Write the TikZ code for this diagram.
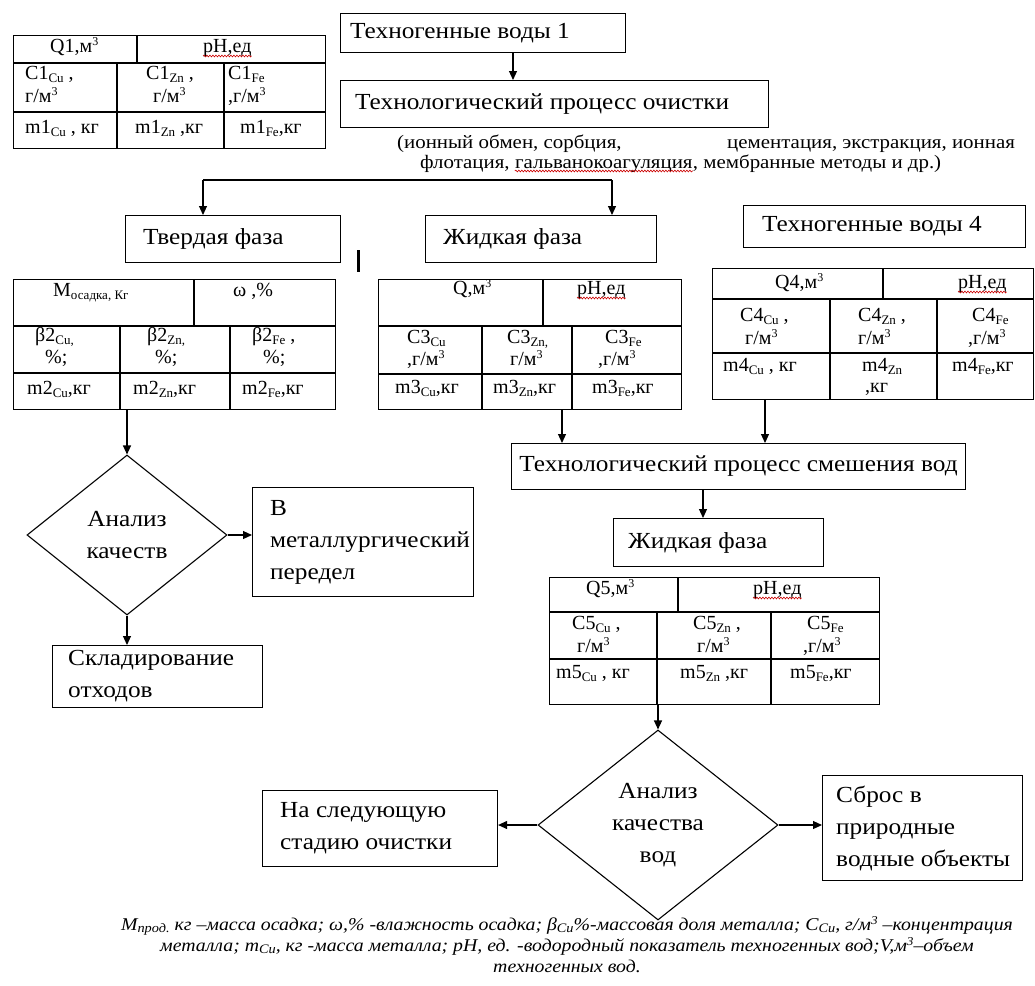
\documentclass[tikz,border=0pt]{standalone}
\usepackage{fontspec}
\setmainfont{Liberation Serif}
\newfontfamily\bxf{Liberation Serif}[FakeStretch=1.1]
\usetikzlibrary{arrows.meta,shapes.geometric,decorations.pathmorphing}
\newcommand\bfsz{\bxf\fontsize{23}{32}\selectfont}
\newcommand\ntf{\bxf\fontsize{19}{20}\selectfont}
\newcommand\tbf{\fontsize{20}{21}\selectfont}
\newcommand\cpf{\bxf\itshape\fontsize{18}{21}\selectfont}
\newcommand\sbs[1]{\raisebox{-0.16em}{\fontsize{13}{13}\selectfont #1}}
\newcommand\cub{\raisebox{0.33em}{\fontsize{12}{12}\selectfont 3}}
\newcommand\tx[4]{\node[tt] (#1) at (#2,#3) {#4};}
\begin{document}
\begin{tikzpicture}[x=1pt,y=-1pt,
  bx/.style={draw, line width=1.1pt, inner sep=0pt},
  tl/.style={line width=1.1pt},
  arr/.style={-{Triangle[length=9pt,width=8pt]}, line width=1.1pt},
  lab/.style={inner sep=0pt, anchor=west, align=left, font=\bfsz},
  tt/.style={inner sep=0pt, anchor=base west, font=\tbf},
  nt/.style={inner sep=0pt, anchor=base west, font=\ntf},
  cp/.style={inner sep=0pt, anchor=base, font=\cpf},
  sq/.style={red!80!black, line width=0.6pt, decorate, decoration={snake, amplitude=0.9pt, segment length=3pt}},
  dm/.style={diamond, draw, line width=1.1pt, inner sep=0pt, align=center, font=\bfsz}]
\useasboundingbox[fill=white] (0,0) rectangle (1035,985);

% ---------- top boxes ----------
\node[bx, anchor=north west, minimum width=285, minimum height=39] (tv1) at (340,13) {};
\node[lab] (tv1t) at ([xshift=10]tv1.west) {Техногенные воды 1};
\node[bx, anchor=north west, minimum width=428, minimum height=47] (tp) at (340,80) {};
\node[lab] (tpt) at ([xshift=15]tp.west) {Технологический процесс очистки};
\node[nt] (n1) at (397,148) {(ионный обмен, сорбция,};
\node[nt] (n2) at (727,148) {цементация, экстракция, ионная};
\node[nt] (n3a) at (420,168) {флотация,};
\node[nt] (n3b) at ([xshift=5]n3a.base east) {гальванокоагуляция};
\node[nt] (n3c) at (n3b.base east) {, мембранные методы и др.)};
\draw[sq] ([yshift=-3]n3b.base west) -- ([yshift=-3]n3b.base east);
\coordinate (c1) at (513,0);
\draw[arr] (c1 |- tv1.south) -- (c1 |- tp.north);

% ---------- table Q1 ----------
\node[bx, anchor=north west, minimum width=312, minimum height=113] (q1) at (13,35) {};
\draw[tl] (13,63) -- (325,63) (137,35) -- (137,63) (13,112) -- (325,112)
          (117,63) -- (117,148) (224,63) -- (224,148);
\tx{q1a}{50}{52}{Q1,м\cub}
\tx{q1b}{203}{52}{pH,ед}
\draw[sq] ([yshift=-4]q1b.base west) -- ([yshift=-4]q1b.base east);
\tx{q1c}{25}{79}{C1\sbs{Cu} ,}
\tx{q1d}{25}{102}{г/м\cub}
\tx{q1e}{146}{79}{C1\sbs{Zn} ,}
\tx{q1f}{153}{102}{г/м\cub}
\tx{q1g}{228}{79}{C1\sbs{Fe}}
\tx{q1h}{228}{102}{,г/м\cub}
\tx{q1i}{25}{133}{m1\sbs{Cu} , кг}
\tx{q1j}{135}{133}{m1\sbs{Zn} ,кг}
\tx{q1k}{240}{133}{m1\sbs{Fe},кг}

% ---------- phases ----------
\node[bx, anchor=north west, minimum width=215, minimum height=47] (tf) at (125,215) {};
\node[lab] (tft) at ([xshift=18]tf.west) {Твердая фаза};
\node[bx, anchor=north west, minimum width=231, minimum height=47] (zf) at (425,215) {};
\node[lab] (zft) at ([xshift=18]zf.west) {Жидкая фаза};
\node[bx, anchor=north west, minimum width=282, minimum height=42] (tv4) at (743,205) {};
\node[lab] (tv4t) at ([xshift=19]tv4.west) {Техногенные воды 4};
\coordinate (s1) at (203,180);
\coordinate (s2) at (612,180);
\draw[tl] (s1) -- (s2);
\draw[arr] (s1) -- (s1 |- tf.north);
\draw[arr] (s2) -- (s2 |- zf.north);
\draw[line width=3pt] (358,250) -- (358,272);

% ---------- table solid phase ----------
\node[bx, anchor=north west, minimum width=322, minimum height=130] (t2) at (13,279) {};
\draw[tl] (13,326) -- (335,326) (194,279) -- (194,326) (13,373) -- (335,373)
          (120,326) -- (120,409) (230,326) -- (230,409);
\tx{t2a}{53}{296}{M\sbs{осадка, Кг}}
\tx{t2b}{233}{296}{ω ,\%}
\tx{t2c}{35}{341}{β2\sbs{Cu,}}
\tx{t2d}{45}{363}{\%;}
\tx{t2e}{147}{341}{β2\sbs{Zn,}}
\tx{t2f}{155}{363}{\%;}
\tx{t2g}{252}{341}{β2\sbs{Fe} ,}
\tx{t2h}{263}{363}{\%;}
\tx{t2i}{27}{394}{m2\sbs{Cu},кг}
\tx{t2j}{133}{394}{m2\sbs{Zn},кг}
\tx{t2k}{242}{394}{m2\sbs{Fe},кг}

% ---------- table liquid phase ----------
\node[bx, anchor=north west, minimum width=303, minimum height=130] (t3) at (378,279) {};
\draw[tl] (378,326) -- (681,326) (543,279) -- (543,326) (378,374) -- (681,374)
          (482,326) -- (482,409) (572,326) -- (572,409);
\tx{t3a}{453}{294}{Q,м\cub}
\tx{t3b}{577}{294}{pH,ед}
\draw[sq] ([yshift=-4]t3b.base west) -- ([yshift=-4]t3b.base east);
\tx{t3c}{407}{343}{C3\sbs{Cu}}
\tx{t3d}{407}{365}{,г/м\cub}
\tx{t3e}{507}{343}{C3\sbs{Zn,}}
\tx{t3f}{510}{365}{г/м\cub}
\tx{t3g}{605}{343}{C3\sbs{Fe}}
\tx{t3h}{598}{365}{,г/м\cub}
\tx{t3i}{395}{393}{m3\sbs{Cu},кг}
\tx{t3j}{493}{393}{m3\sbs{Zn},кг}
\tx{t3k}{592}{393}{m3\sbs{Fe},кг}

% ---------- table waters 4 ----------
\node[bx, anchor=north west, minimum width=321, minimum height=131] (t4) at (712,268) {};
\draw[tl] (712,299) -- (1033,299) (883,268) -- (883,299) (712,353) -- (1033,353)
          (830,299) -- (830,399) (937,299) -- (937,399);
\tx{t4a}{775}{288}{Q4,м\cub}
\tx{t4b}{958}{288}{pH,ед}
\draw[sq] ([yshift=-4]t4b.base west) -- ([yshift=-4]t4b.base east);
\tx{t4c}{740}{321}{C4\sbs{Cu} ,}
\tx{t4d}{745}{344}{г/м\cub}
\tx{t4e}{858}{321}{C4\sbs{Zn} ,}
\tx{t4f}{858}{344}{г/м\cub}
\tx{t4g}{972}{321}{C4\sbs{Fe}}
\tx{t4h}{968}{344}{,г/м\cub}
\tx{t4i}{723}{371}{m4\sbs{Cu} , кг}
\tx{t4j}{862}{371}{m4\sbs{Zn}}
\tx{t4k}{865}{392}{,кг}
\tx{t4l}{952}{371}{m4\sbs{Fe},кг}

% ---------- left branch ----------
\node[dm, minimum width=200, minimum height=160] (d1) at (127,535) {Анализ\\качеств};
\coordinate (c2) at (127,0);
\draw[arr] (c2 |- t2.south) -- (d1.north);
\node[bx, anchor=north west, minimum width=221, minimum height=109] (met) at (252,487) {};
\node[lab] (mett) at ([xshift=18]met.west) {В\\металлургический\\передел};
\draw[arr] (d1.east) -- (d1.east -| met.west);
\node[bx, anchor=north west, minimum width=210, minimum height=62] (skl) at (52,645) {};
\node[lab] (sklt) at ([xshift=16]skl.west) {Складирование\\отходов};
\draw[arr] (d1.south) -- (d1.south |- skl.north);

% ---------- mixing ----------
\node[bx, anchor=north west, minimum width=454, minimum height=46, font=\bfsz] (mix) at (511,443) {Технологический процесс смешения вод};
\coordinate (c3) at (562,0);
\coordinate (c4) at (765,0);
\draw[arr] (c3 |- t3.south) -- (c3 |- mix.north);
\draw[arr] (c4 |- t4.south) -- (c4 |- mix.north);
\node[bx, anchor=north west, minimum width=210, minimum height=48] (zf2) at (613,518) {};
\node[lab] (zf2t) at ([xshift=15]zf2.west) {Жидкая фаза};
\coordinate (c5) at (703,0);
\draw[arr] (c5 |- mix.south) -- (c5 |- zf2.north);

% ---------- table Q5 ----------
\node[bx, anchor=north west, minimum width=330, minimum height=127] (t5) at (549,577) {};
\draw[tl] (549,612) -- (879,612) (678,577) -- (678,612) (549,659) -- (879,659)
          (657,612) -- (657,704) (771,612) -- (771,704);
\tx{t5a}{586}{594}{Q5,м\cub}
\tx{t5b}{753}{594}{pH,ед}
\draw[sq] ([yshift=-4]t5b.base west) -- ([yshift=-4]t5b.base east);
\tx{t5c}{572}{629}{C5\sbs{Cu} ,}
\tx{t5d}{577}{652}{г/м\cub}
\tx{t5e}{693}{629}{C5\sbs{Zn} ,}
\tx{t5f}{697}{652}{г/м\cub}
\tx{t5g}{807}{629}{C5\sbs{Fe}}
\tx{t5h}{803}{652}{,г/м\cub}
\tx{t5i}{556}{678}{m5\sbs{Cu} , кг}
\tx{t5j}{680}{678}{m5\sbs{Zn} ,кг}
\tx{t5k}{790}{678}{m5\sbs{Fe},кг}

% ---------- final analysis ----------
\node[dm, minimum width=240, minimum height=190] (d2) at (658,825) {Анализ\\качества\\вод};
\draw[arr] (d2.north |- t5.south) -- (d2.north);
\node[bx, anchor=north west, minimum width=235, minimum height=76] (nxt) at (262,790) {};
\node[lab] (nxtt) at ([xshift=18]nxt.west) {На следующую\\стадию очистки};
\node[bx, anchor=north west, minimum width=200, minimum height=105] (sbr) at (822,775) {};
\node[lab] (sbrt) at ([xshift=14]sbr.west) {Сброс в\\природные\\водные объекты};
\draw[arr] (d2.west) -- (d2.west -| nxt.east);
\draw[arr] (d2.east) -- (d2.east -| sbr.west);

% ---------- caption ----------
\node[cp] (cap1) at (567,930) {M\sbs{прод.} кг –масса осадка; ω,\% -влажность осадка; β\sbs{Cu}\%-массовая доля металла; C\sbs{Cu}, г/м\cub{} –концентрация};
\node[cp] (cap2) at (567,951) {металла; m\sbs{Cu}, кг -масса металла; pH, ед. -водородный показатель техногенных вод;V,м\cub–объем};
\node[cp] (cap3) at (567,972) {техногенных вод.};
\end{tikzpicture}
\end{document}
